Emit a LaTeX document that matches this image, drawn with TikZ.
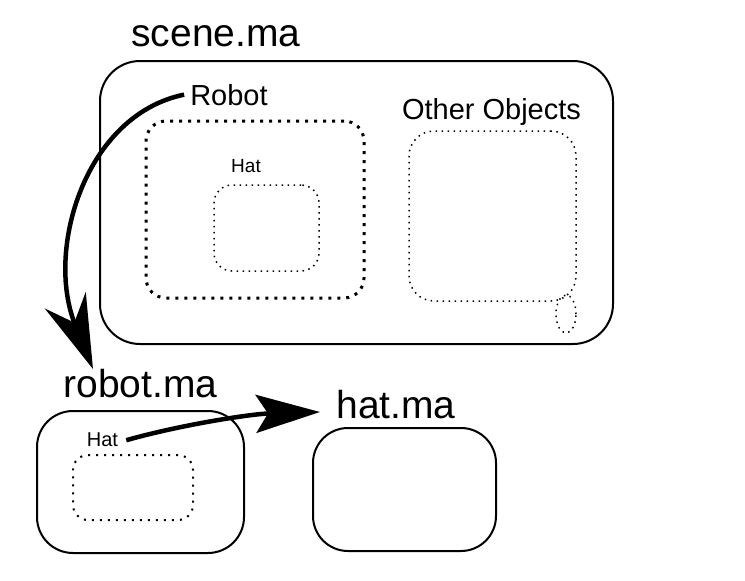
\documentclass[tikz,border=0pt]{standalone}
\usepackage{fontspec}
\setmainfont{Liberation Sans}
\usetikzlibrary{arrows.meta,shapes.geometric}
\begin{document}
\begin{tikzpicture}[x=1pt,y=-1pt,
  solidbox/.style={draw, line width=2pt, rounded corners=#1, inner sep=0pt, rectangle},
  thickdots/.style={draw, line width=3pt, dash pattern=on 3pt off 6pt, rounded corners=#1, inner sep=0pt, rectangle},
  thindots/.style={draw, line width=1.5pt, dash pattern=on 1.5pt off 4.5pt, rounded corners=#1, inner sep=0pt, rectangle},
  meddots/.style={draw, line width=2pt, dash pattern=on 2pt off 6pt, rounded corners=#1, inner sep=0pt, rectangle},
  lbl/.style={inner sep=0pt, anchor=base, font=\fontsize{#1}{#1}\selectfont},
  bigarrow/.style={line width=4.5pt}
]
\useasboundingbox (0,0) rectangle (745,581);
% boxes
\node[solidbox=40pt, minimum width=513pt, minimum height=283pt] (scene) at (356.5,202.5) {};
\node[thickdots=20pt, minimum width=218pt, minimum height=177pt] (robotbox) at (255,209.5) {};
\node[thindots=18pt, minimum width=105pt, minimum height=86pt] (hatin) at (266.5,228) {};
\node[thindots=25pt, minimum width=167pt, minimum height=170pt] (others) at (492.5,216) {};
\node[draw, ellipse, line width=1.5pt, dash pattern=on 1.5pt off 4.5pt, inner sep=0pt, minimum width=20pt, minimum height=38pt] (tab) at (566,314) {};
\node[solidbox=36pt, minimum width=207pt, minimum height=142pt] (robotmabox) at (140.5,482) {};
\node[meddots=15pt, minimum width=120pt, minimum height=65pt] (hatin2) at (133,487.5) {};
\node[solidbox=35pt, minimum width=183pt, minimum height=123pt] (hatmabox) at (404.5,489.5) {};
% labels
\node[lbl=39] (scenema) at (216,46) {scene.ma};
\node[lbl=29] (robotlbl) at (229,105) {Robot};
\node[lbl=19] (hatlbl) at (246,172) {Hat};
\node[lbl=29] (otherlbl) at (491.5,119) {Other Objects};
\node[lbl=39] (robotma) at (140.5,397) {robot.ma};
\node[lbl=39] (hatma) at (396,418) {hat.ma};
\node[lbl=20] (hatlbl2) at (102.5,446) {Hat};
% arrows
\coordinate (tipA) at (93,369);
\coordinate (tipB) at (320,412);
\draw[bigarrow, -{Stealth[length=74pt,width=44pt,inset=24pt]}]
  ([xshift=-6pt]robotlbl.west) .. controls (85,115) and (45,250) .. (tipA);
\draw[bigarrow, -{Stealth[length=64pt,width=38pt,inset=12pt]}]
  ([xshift=8pt,yshift=-1pt]hatlbl2.east) .. controls (180,425) and (250,414) .. (tipB);
\end{tikzpicture}
\end{document}
